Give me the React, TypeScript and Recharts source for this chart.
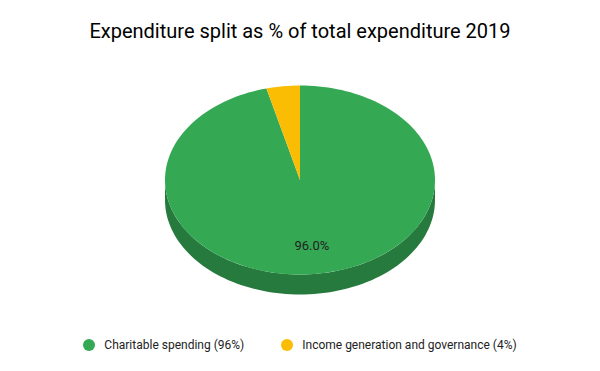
import { PieChart, Pie, Legend } from 'recharts';

const categories = ['Charitable spending', 'Income generation and governance'];
const shares = [96, 4];
const legendLabels = ['Charitable spending (96%)', 'Income generation and governance (4%)'];
const sliceColors = ['#34a853', '#fbbc04'];
const sideColors = ['#267a3d', '#b8890a'];

const data = categories.map((name, i) => ({ name, value: shares[i] }));

const RADIAN = Math.PI / 180;
const TILT = 0.7; // vertical squash of the top face
const DEPTH = 20; // thickness of the 3d rim

const pt = (cx: number, cy: number, r: number, a: number, dy = 0) => [
  cx + r * Math.cos(-a * RADIAN),
  cy + r * TILT * Math.sin(-a * RADIAN) + dy,
];

const arcPoints = (cx: number, cy: number, r: number, from: number, to: number, dy = 0) => {
  const steps = Math.max(2, Math.ceil(Math.abs(to - from) / 2));
  const out: number[][] = [];
  for (let i = 0; i <= steps; i++) {
    out.push(pt(cx, cy, r, from + ((to - from) * i) / steps, dy));
  }
  return out;
};

const toPath = (pts: number[][]) =>
  pts.map((p, i) => `${i ? 'L' : 'M'}${p[0].toFixed(2)},${p[1].toFixed(2)}`).join(' ') + ' Z';

// rim: only the part of each slice facing the viewer
const SideFace = (props: any) => {
  const { cx, cy, outerRadius, startAngle, endAngle, index } = props;
  const lo = Math.min(startAngle, endAngle);
  const hi = Math.max(startAngle, endAngle);
  const parts: number[][] = [];
  for (let k = -2; k <= 1; k++) {
    const a = Math.max(lo, -180 + 360 * k);
    const b = Math.min(hi, 360 * k);
    if (b > a) parts.push([a, b]);
  }
  return (
    <g>
      {parts.map(([a, b], j) => (
        <path
          key={j}
          d={toPath([...arcPoints(cx, cy, outerRadius, a, b), ...arcPoints(cx, cy, outerRadius, b, a, DEPTH)])}
          fill={sideColors[index]}
        />
      ))}
    </g>
  );
};

const TopFace = (props: any) => {
  const { cx, cy, outerRadius, startAngle, endAngle, index } = props;
  return <path d={toPath([[cx, cy], ...arcPoints(cx, cy, outerRadius, startAngle, endAngle)])} fill={sliceColors[index]} />;
};

const ValueLabel = (props: any) => {
  const { cx, cy, outerRadius, midAngle, percent } = props;
  if (percent < 0.05) return null;
  const [x, y] = pt(cx, cy, outerRadius * 0.7, midAngle);
  return (
    <text x={x} y={y} textAnchor="middle" dominantBaseline="central" fontSize={13} fill="#222" fontFamily="Roboto">
      {(percent * 100).toFixed(1)}%
    </text>
  );
};

const LegendContent = () => (
  <div
    style={{
      display: 'flex',
      justifyContent: 'center',
      gap: 37,
      fontFamily: 'Roboto',
      fontSize: 12,
      color: '#222',
      whiteSpace: 'nowrap',
    }}
  >
    {categories.map((name, i) => (
      <div key={name} style={{ display: 'flex', alignItems: 'center', flexShrink: 0 }}>
        <span style={{ width: 12, height: 12, borderRadius: 6, background: sliceColors[i], marginRight: 9 }} />
        <span>{legendLabels[i]}</span>
      </div>
    ))}
  </div>
);

export default function App() {
  return (
    <div style={{ position: 'absolute', left: 0, top: 0, width: 600, height: 371, background: '#fff' }}>
      <div
        style={{
          position: 'absolute',
          top: 19,
          left: 0,
          width: 600,
          textAlign: 'center',
          fontFamily: 'Roboto',
          fontSize: 20,
          lineHeight: '24px',
          color: '#000',
        }}
      >
        Expenditure split as % of total expenditure 2019
      </div>
      <PieChart width={600} height={371} margin={{ top: 0, right: 0, bottom: 0, left: 0 }}>
        <Pie
          data={data}
          dataKey="value"
          nameKey="name"
          cx={300}
          cy={180}
          outerRadius={135}
          startAngle={90}
          endAngle={-270}
          fill="none"
          stroke="none"
          label={SideFace}
          labelLine={false}
          legendType="none"
          isAnimationActive={false}
        />
        <Pie
          data={data}
          dataKey="value"
          nameKey="name"
          cx={300}
          cy={180}
          outerRadius={135}
          startAngle={90}
          endAngle={-270}
          fill="none"
          stroke="none"
          label={TopFace}
          labelLine={false}
          isAnimationActive={false}
        />
        <Pie
          data={data}
          dataKey="value"
          nameKey="name"
          cx={300}
          cy={180}
          outerRadius={135}
          startAngle={90}
          endAngle={-270}
          fill="none"
          stroke="none"
          label={ValueLabel}
          labelLine={false}
          legendType="none"
          isAnimationActive={false}
        />
        <Legend
          content={LegendContent}
          wrapperStyle={{ position: 'absolute', top: 338, left: 0, width: 600, height: 16 }}
        />
      </PieChart>
    </div>
  );
}
